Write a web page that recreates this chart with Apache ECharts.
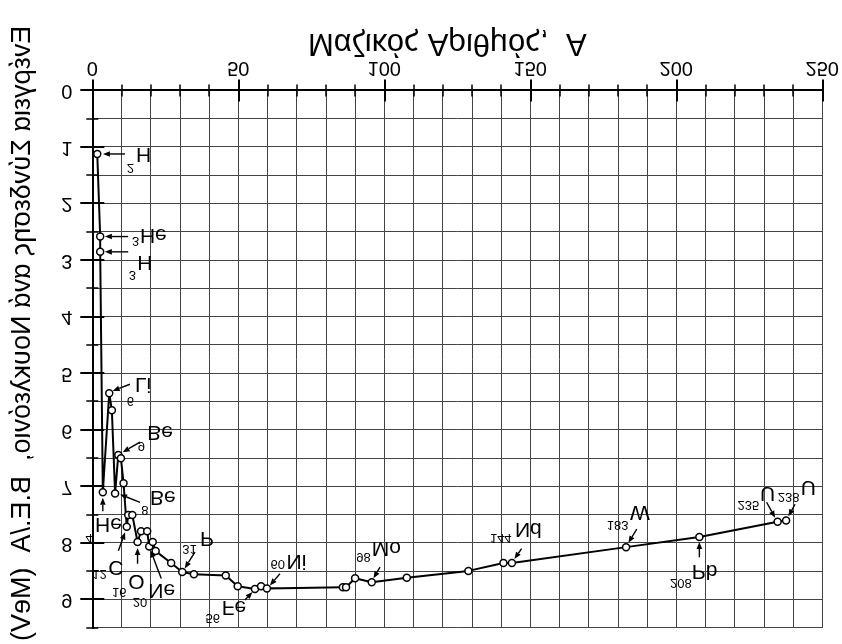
<!DOCTYPE html>
<html>
<head>
<meta charset="utf-8">
<script src="https://cdn.jsdelivr.net/npm/echarts@6/dist/echarts.min.js"></script>
<style>
  html, body { margin: 0; padding: 0; background: #fff; }
  #chart { width: 842px; height: 644px; transform: scaleY(-1); transform-origin: 50% 50%; }
</style>
</head>
<body>
<div id="chart"></div>
<script>
// ---- data ----
const massNumber = [1.7, 2.7, 2.7, 3.6, 5.8, 6.7, 7.8, 8.9, 9.8, 10.7, 11.8, 12.3, 13.7, 15.5, 16.7, 18.8, 19.5, 20.7, 21.7, 27.0, 30.8, 34.8, 45.7, 49.8, 55.7, 57.8, 59.8, 85.8, 86.9, 90.0, 95.7, 107.7, 128.8, 140.8, 143.7, 182.8, 207.9, 234.7, 237.6];
const bindingEnergy = [1.12, 2.58, 2.85, 7.10, 5.35, 5.65, 7.12, 6.44, 6.50, 6.94, 7.71, 7.50, 7.50, 7.98, 7.79, 7.79, 8.06, 7.98, 8.14, 8.35, 8.51, 8.55, 8.57, 8.76, 8.81, 8.76, 8.80, 8.78, 8.78, 8.62, 8.69, 8.61, 8.49, 8.35, 8.35, 8.07, 7.89, 7.62, 7.60];

// labelled nuclides: index of the point, mass-number prefix, element symbol
const labelPoint  = [0, 1, 2, 3, 4, 6, 7, 10, 13, 16, 20, 24, 26, 30, 34, 35, 36, 37, 38];
const labelMass   = ['2', '3', '3', '4', '6', '8', '9', '12', '16', '20', '31', '56', '60', '98', '144', '183', '208', '235', '238'];
const labelSymbol = ['H', 'He', 'H', 'He', 'Li', 'Be', 'Be', 'C', 'O', 'Ne', 'P', 'Fe', 'Ni', 'Mo', 'Nd', 'W', 'Pb', 'U', 'U'];

const xTickLabels = [0, 50, 100, 150, 200, 250];
const yTickLabels = [0, 1, 2, 3, 4, 5, 6, 7, 8, 9];

const xTitle = 'Μαζικός Αριθμός,  A';
const yTitle = 'Ενέργεια Σύνδεσης ανά Νουκλεόνιο,  B.E./A  (MeV)';

// ---- annotation layout (pixel offsets from the marked point; dy measured downward in the shown picture) ----
// [symbolDx, symbolDy, numberRightDx, numberDy, headDx, headDy, tailDx, tailDy]
const annotLayout = [
  [38.7, 0, 36.7, 13.3, 5.7, 0, 27.7, 0],
  [39.7, -1.7, 39, 4.3, 4.7, 0, 28, 0],
  [37, 10, 35.7, 23, 4.7, 0, 28, 0],
  [-7.7, 31.7, -10, 45.7, 0, 5.5, 0, 19],
  [25.7, -9, 24.7, 7.7, 3.4, -2.3, 20.7, -9],
  [35, 3.7, 33.3, 15.7, 5, 1, 25, 9],
  [29, -23.5, 26.7, -9.7, 4.4, -2.7, 21.7, -12.7],
  [-18.4, 39.8, -20, 47.3, -1.7, 5.6, -8.4, 24],
  [-9.4, 39.2, -11, 50, 0, 6, 0, 21.7],
  [-1, 43.3, -2, 55.3, 1.4, 4, 12, 32],
  [17.7, -34.3, 14.4, -23.6, 2.5, -3.6, 12.7, -20],
  [-33.3, 17.5, -35, 28.3, -2.5, 3, -10, 11],
  [19.7, -27.2, 18, -24.7, 3, -3, 13, -14.7],
  [0, -34.3, -1, -25.8, 1.7, -4, 8.3, -15],
  [3, -34.3, -0.3, -25.3, 2.5, -4, 9.7, -14.3],
  [4, -35, 2.3, -22.5, 2.3, -4.3, 10.7, -18],
  [-7.6, 33.7, -7.6, 46, 0, 5, 0, 20.3],
  [-17.7, -28.7, -18.4, -16.7, -2.5, -4, -11, -19.4],
  [14.7, -33.8, 13.3, -23.8, 2.3, -4.3, 9, -16.3]
];

const FONT = '"Liberation Sans", Arial, sans-serif';

const curveData = massNumber.map((a, i) => [a, bindingEnergy[i]]);
const annotData = labelPoint.map(i => [massNumber[i], bindingEnergy[i]]);

function renderAnnot(params, api) {
  const i = params.dataIndex;
  const p = api.coord([api.value(0), api.value(1)]);
  const L = annotLayout[i];
  const f = (dx, dy) => [p[0] + dx, p[1] - dy];
  const s = f(L[0], L[1]);
  const n = f(L[2], L[3]);
  const head = f(L[4], L[5]);
  const tail = f(L[6], L[7]);
  const ang = Math.atan2(head[1] - tail[1], head[0] - tail[0]);
  const c = Math.cos(ang), sn = Math.sin(ang);
  const len = 7, w = 2.8;
  const base = [head[0] - len * c, head[1] - len * sn];
  const l = [base[0] - w * sn, base[1] + w * c];
  const r = [base[0] + w * sn, base[1] - w * c];
  return {
    type: 'group',
    children: [
      { type: 'line', shape: { x1: tail[0], y1: tail[1], x2: base[0], y2: base[1] }, style: { stroke: '#000', lineWidth: 1.4 } },
      { type: 'polygon', shape: { points: [head, l, r] }, style: { fill: '#000' } },
      { type: 'text', x: s[0], y: s[1], style: { text: labelSymbol[i], font: '21px ' + FONT, fill: '#000', align: 'left', verticalAlign: 'middle' } },
      { type: 'text', x: n[0], y: n[1], style: { text: labelMass[i], font: '13px ' + FONT, fill: '#000', align: 'right', verticalAlign: 'middle' } }
    ]
  };
}

const axisBlack = { color: '#000', width: 2 };
const gridLine = { color: '#444', width: 1 };

const option = {
  animation: false,
  backgroundColor: '#fff',
  grid: { left: 92.3, right: 19.7, top: 14, bottom: 90.6, containLabel: false },
  xAxis: [
    {
      type: 'value', position: 'bottom', min: 0, max: 250, interval: 10,
      axisLine: { show: true, lineStyle: axisBlack },
      axisTick: { show: true, length: 6, lineStyle: { color: '#000', width: 1.5 } },
      axisLabel: { show: true, fontSize: 20, fontFamily: FONT, color: '#000', margin: 13,
        formatter: v => (xTickLabels.indexOf(v) >= 0 ? String(v) : '') },
      splitLine: { show: true, lineStyle: gridLine },
      name: xTitle, nameLocation: 'middle', nameGap: 33, nameMoveOverlap: false,
      nameTextStyle: { fontSize: 31, fontFamily: FONT, color: '#000', padding: [0, 20, 0, 0] }
    },
    {
      type: 'value', position: 'bottom', min: 0, max: 250, interval: 50,
      axisLine: { show: false },
      axisTick: { show: true, length: 11, lineStyle: { color: '#000', width: 2 } },
      axisLabel: { show: false }, splitLine: { show: false }
    },
    {
      type: 'value', position: 'top', min: 0, max: 250, interval: 10,
      axisLine: { show: true, lineStyle: axisBlack },
      axisTick: { show: true, length: 6, lineStyle: { color: '#000', width: 1.5 } },
      axisLabel: { show: false }, splitLine: { show: false }
    },
    {
      type: 'value', position: 'top', min: 0, max: 250, interval: 50,
      axisLine: { show: false },
      axisTick: { show: true, length: 11, lineStyle: { color: '#000', width: 2 } },
      axisLabel: { show: false }, splitLine: { show: false }
    }
  ],
  yAxis: [
    {
      type: 'value', position: 'left', min: 0, max: 9.5, interval: 0.5,
      axisLine: { show: true, lineStyle: axisBlack },
      axisTick: { show: true, length: 6, lineStyle: { color: '#000', width: 1.5 } },
      axisLabel: { show: true, fontSize: 20, fontFamily: FONT, color: '#000', margin: 20,
        formatter: v => (yTickLabels.indexOf(v) >= 0 ? String(v) : '') },
      splitLine: { show: true, lineStyle: gridLine },
      name: yTitle, nameLocation: 'middle', nameGap: 56, nameMoveOverlap: false,
      nameTextStyle: { fontSize: 27, fontFamily: FONT, color: '#000', padding: [0, 52, 0, 0] }
    },
    {
      type: 'value', position: 'left', min: 0, max: 9.5, interval: 1,
      axisLine: { show: false },
      axisTick: { show: true, length: 12, customValues: yTickLabels, lineStyle: { color: '#000', width: 2 } },
      axisLabel: { show: false }, splitLine: { show: false }
    },
    {
      type: 'value', position: 'right', min: 0, max: 9.5, interval: 0.5,
      axisLine: { show: true, lineStyle: axisBlack },
      axisTick: { show: true, length: 6, lineStyle: { color: '#000', width: 1.5 } },
      axisLabel: { show: false }, splitLine: { show: false }
    },
    {
      type: 'value', position: 'right', min: 0, max: 9.5, interval: 1,
      axisLine: { show: false },
      axisTick: { show: true, length: 12, customValues: yTickLabels, lineStyle: { color: '#000', width: 2 } },
      axisLabel: { show: false }, splitLine: { show: false }
    }
  ],
  series: [
    {
      type: 'line', xAxisIndex: 0, yAxisIndex: 0,
      data: curveData,
      symbol: 'circle', symbolSize: 7, showSymbol: true,
      lineStyle: { color: '#000', width: 2 },
      itemStyle: { color: '#fff', borderColor: '#000', borderWidth: 1.5 },
      z: 3, silent: true
    },
    {
      type: 'custom', xAxisIndex: 0, yAxisIndex: 0,
      data: annotData,
      renderItem: renderAnnot,
      z: 4, silent: true
    }
  ]
};

const chart = echarts.init(document.getElementById('chart'), null, { renderer: 'canvas' });
chart.setOption(option);
</script>
</body>
</html>
